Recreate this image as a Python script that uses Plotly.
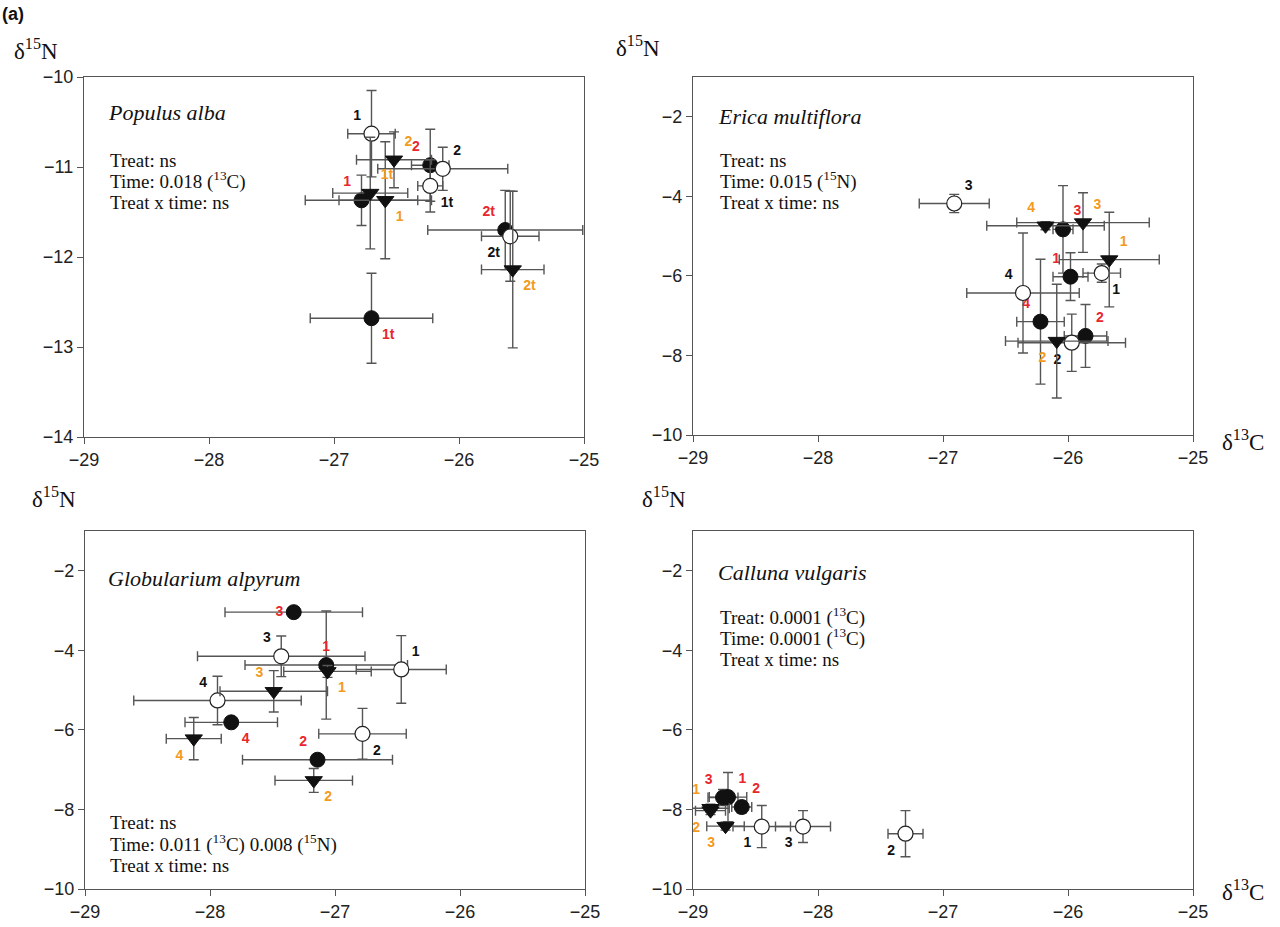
import plotly.graph_objects as go

# ---------------- data ----------------
# Populus alba (panel 1)
pa_fill_lab = ["1", "2", "1t", "2t"]
pa_fill_x = [-26.78, -26.23, -26.70, -25.63]
pa_fill_y = [-11.37, -10.98, -12.68, -11.70]
pa_fill_xe = [0.45, 0.15, 0.49, 0.62]
pa_fill_ye = [0.28, 0.40, 0.50, 0.44]

pa_open_lab = ["1", "2", "1t", "2t"]
pa_open_x = [-26.70, -26.13, -26.23, -25.59]
pa_open_y = [-10.63, -11.02, -11.21, -11.77]
pa_open_xe = [0.19, 0.52, 0.10, 0.23]
pa_open_ye = [0.48, 0.24, 0.29, 0.50]

pa_tri_lab = ["1", "2", "1t", "2t"]
pa_tri_x = [-26.59, -26.52, -26.71, -25.57]
pa_tri_y = [-11.37, -10.92, -11.29, -12.14]
pa_tri_xe = [0.37, 0.30, 0.30, 0.25]
pa_tri_ye = [0.65, 0.31, 0.62, 0.87]

# Erica multiflora (panel 2)
em_fill_lab = ["1", "2", "3", "4"]
em_fill_x = [-25.98, -25.86, -26.04, -26.22]
em_fill_y = [-6.02, -7.51, -4.83, -7.15]
em_fill_xe = [0.14, 0.17, 0.08, 0.19]
em_fill_ye = [0.60, 0.79, 1.10, 1.57]

em_open_lab = ["1", "2", "3", "4"]
em_open_x = [-25.73, -25.97, -26.91, -26.36]
em_open_y = [-5.93, -7.68, -4.18, -6.43]
em_open_xe = [0.15, 0.43, 0.28, 0.45]
em_open_ye = [0.23, 0.72, 0.23, 1.51]

em_tri_lab = ["1", "2", "3", "4"]
em_tri_x = [-25.67, -26.09, -25.88, -26.18]
em_tri_y = [-5.59, -7.64, -4.66, -4.74]
em_tri_xe = [0.40, 0.41, 0.53, 0.47]
em_tri_ye = [1.19, 1.43, 0.75, 0.10]

# Globularium alpyrum (panel 3)
ga_fill_lab = ["1", "2", "3", "4"]
ga_fill_x = [-27.07, -27.14, -27.33, -27.83]
ga_fill_y = [-4.37, -6.75, -3.04, -5.81]
ga_fill_xe = [0.65, 0.60, 0.55, 0.37]
ga_fill_ye = [1.36, 0.0, 0.0, 0.0]

ga_open_lab = ["1", "2", "3", "4"]
ga_open_x = [-26.47, -26.78, -27.43, -27.94]
ga_open_y = [-4.48, -6.10, -4.15, -5.26]
ga_open_xe = [0.36, 0.35, 0.67, 0.67]
ga_open_ye = [0.85, 0.64, 0.51, 0.61]

ga_tri_lab = ["1", "2", "3", "4"]
ga_tri_x = [-27.06, -27.17, -27.49, -28.13]
ga_tri_y = [-4.53, -7.27, -5.03, -6.22]
ga_tri_xe = [0.35, 0.31, 0.43, 0.22]
ga_tri_ye = [0.15, 0.30, 0.52, 0.53]

# Calluna vulgaris (panel 4)
cv_fill_lab = ["1", "2", "3"]
cv_fill_x = [-28.72, -28.61, -28.76]
cv_fill_y = [-7.69, -7.94, -7.70]
cv_fill_xe = [0.15, 0.08, 0.12]
cv_fill_ye = [0.62, 0.15, 0.20]

cv_open_lab = ["1", "2", "3"]
cv_open_x = [-28.45, -27.30, -28.12]
cv_open_y = [-8.43, -8.61, -8.43]
cv_open_xe = [0.23, 0.14, 0.22]
cv_open_ye = [0.53, 0.58, 0.40]

cv_tri_lab = ["1", "2", "3"]
cv_tri_x = [-28.86, -28.86, -28.74]
cv_tri_y = [-7.97, -8.03, -8.42]
cv_tri_xe = [0.15, 0.12, 0.15]
cv_tri_ye = [0.10, 0.10, 0.10]

x_ticks = [-29, -28, -27, -26, -25]

# ---------------- label placement (style) ----------------
pos = {
    "pa_fill": ["top left", "top left", "bottom right", "top left"],
    "pa_open": ["top left", "top right", "bottom right", "bottom left"],
    "pa_tri": ["bottom right", "top right", "top right", "bottom right"],
    "em_fill": ["top left", "top right", "top right", "top left"],
    "em_open": ["bottom right", "bottom left", "top right", "top left"],
    "em_tri": ["top right", "bottom left", "top right", "top left"],
    "ga_fill": ["top center", "top left", "middle left", "bottom right"],
    "ga_open": ["top right", "bottom right", "top left", "top left"],
    "ga_tri": ["bottom right", "bottom right", "top left", "bottom left"],
    "cv_fill": ["top right", "top right", "top left"],
    "cv_open": ["bottom left", "bottom left", "bottom left"],
    "cv_tri": ["top left", "bottom left", "bottom left"],
}

RED = "#e8262b"
ORANGE = "#f39a1e"
BLACK = "#111111"
ERR = "#555555"

fig = go.Figure()


def add(key, lab, x, y, xe, ye, kind, ax):
    if kind == "fill":
        marker = dict(symbol="circle", size=15, color="#111111", line=dict(color="#111111", width=1))
        tc = RED
    elif kind == "open":
        marker = dict(symbol="circle", size=15, color="white", line=dict(color="#222222", width=1.2))
        tc = BLACK
    else:
        marker = dict(symbol="triangle-down", size=15, color="#111111", line=dict(color="#111111", width=1))
        tc = ORANGE
    fig.add_trace(go.Scatter(
        x=x, y=y, text=lab, mode="markers+text",
        textposition=pos[key],
        textfont=dict(family="Liberation Sans, Arial", size=14, color=tc, weight="bold"),
        marker=marker,
        error_x=dict(type="data", array=xe, color=ERR, thickness=1.4, width=5),
        error_y=dict(type="data", array=ye, color=ERR, thickness=1.4, width=5),
        xaxis="x" + ax, yaxis="y" + ax, showlegend=False, cliponaxis=False,
    ))


for p, ax in (("pa", ""), ("em", "2"), ("ga", "3"), ("cv", "4")):
    g = globals()
    for kind in ("fill", "open", "tri"):
        k = p + "_" + kind
        add(k, g[k + "_lab"], g[k + "_x"], g[k + "_y"], g[k + "_xe"], g[k + "_ye"], kind, ax)

W, H = 1280, 927

axis_common = dict(
    showline=True, linecolor="#555555", linewidth=1.3, mirror=True,
    ticks="outside", ticklen=6, tickcolor="#555555", tickwidth=1.3,
    showgrid=False, zeroline=False, automargin=False,
    tickfont=dict(family="Liberation Sans, Arial", size=18, color="#222222"),
)

panels = {
    "": dict(x=(84, 584), y=(77, 437), yr=[-14, -10], yt=[-14, -13, -12, -11, -10]),
    "2": dict(x=(693, 1193), y=(77, 435), yr=[-10, -1], yt=[-10, -8, -6, -4, -2]),
    "3": dict(x=(85, 585), y=(531, 889), yr=[-10, -1], yt=[-10, -8, -6, -4, -2]),
    "4": dict(x=(693, 1193), y=(531, 889), yr=[-10, -1], yt=[-10, -8, -6, -4, -2]),
}
lay = {}
for ax, pdef in panels.items():
    xd = [pdef["x"][0] / W, pdef["x"][1] / W]
    yd = [1 - pdef["y"][1] / H, 1 - pdef["y"][0] / H]
    lay["xaxis" + ax] = dict(axis_common, domain=xd, range=[-29, -25], tickvals=x_ticks,
                             anchor="y" + ax)
    lay["yaxis" + ax] = dict(axis_common, domain=yd, range=pdef["yr"], tickvals=pdef["yt"],
                             anchor="x" + ax)

fig.update_layout(
    width=W, height=H, margin=dict(l=0, r=0, t=0, b=0, autoexpand=False),
    paper_bgcolor="white", plot_bgcolor="white", **lay,
)

SERIF = "Liberation Serif, Times New Roman"


def ann(text, px, py, size=19, xanchor="left", yanchor="middle", family=SERIF):
    fig.add_annotation(text=text, x=px / W, y=1 - py / H, xref="paper", yref="paper",
                       showarrow=False, xanchor=xanchor, yanchor=yanchor,
                       font=dict(family=family, size=size, color="#111111"), align="left")


ann("<b>(a)</b>", 0, 14, size=18, family="Liberation Sans, Arial")
for (px, py) in ((12, 50), (614, 46), (30, 498), (640, 498)):
    ann("δ<sup>15</sup>N", px, py, size=23)
for (px, py) in ((1220, 440), (1220, 890)):
    ann("δ<sup>13</sup>C", px, py, size=23)

ann("<i>Populus alba</i>", 106, 112, size=22)
ann("Treat: ns", 108, 160)
ann("Time: 0.018 (<sup>13</sup>C)", 108, 181)
ann("Treat x time: ns", 108, 202)

ann("<i>Erica multiflora</i>", 716, 116, size=22)
ann("Treat: ns", 718, 160)
ann("Time: 0.015 (<sup>15</sup>N)", 718, 181)
ann("Treat x time: ns", 718, 202)

ann("<i>Globularium alpyrum</i>", 106, 578, size=22)
ann("Treat: ns", 108, 822)
ann("Time: 0.011 (<sup>13</sup>C) 0.008 (<sup>15</sup>N)", 108, 843)
ann("Treat x time: ns", 108, 865)

ann("<i>Calluna vulgaris</i>", 716, 572, size=22)
ann("Treat: 0.0001 (<sup>13</sup>C)", 718, 616)
ann("Time: 0.0001 (<sup>13</sup>C)", 718, 637)
ann("Treat x time: ns", 718, 659)

fig.write_html(
    "out.html",
    config={"displayModeBar": False},
    post_script="document.body.style.margin='0px';document.body.style.overflow='hidden';",
)
